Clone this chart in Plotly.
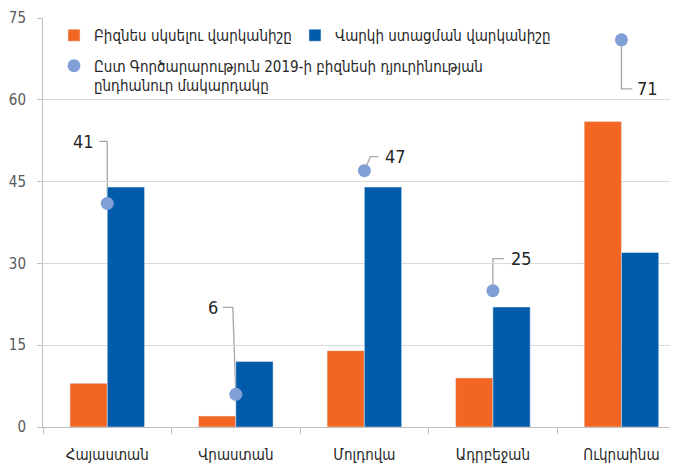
import plotly.graph_objects as go

categories = ["Հայաստան", "Վրաստան", "Մոլդովա", "Ադրբեջան", "Ուկրաինա"]
start_rank = [8, 2, 14, 9, 56]
credit_rank = [44, 12, 44, 22, 32]
doing_business = [41, 6, 47, 25, 71]

name_start = "Բիզնես սկսելու վարկանիշը"
name_credit = "Վարկի ստացման վարկանիշը"
name_db = "Ըստ Գործարարություն 2019-ի բիզնեսի դյուրինության<br>ընդհանուր մակարդակը"

FONT = "Liberation Sans Narrow, DejaVu Sans Condensed, DejaVu Sans"
ORANGE = "#f26522"
BLUE = "#005baa"
DOT = "#7f9fd6"

xs = list(range(len(categories)))

fig = go.Figure()
fig.add_trace(go.Bar(x=xs, y=start_rank, name=name_start, marker_color=ORANGE,
                     width=0.29, offset=-0.29, legend="legend"))
fig.add_trace(go.Bar(x=xs, y=credit_rank, name=name_credit, marker_color=BLUE,
                     width=0.29, offset=0, legend="legend2"))
fig.add_trace(go.Scatter(x=xs, y=doing_business, name=name_db, mode="markers",
                         marker=dict(size=13, color=DOT), legend="legend3"))

# leader-line pixel paths and label placement (style only)
leader = [
    ("M0,0 L0,62 L-8,62", -11, 62, "right"),
    ("M0,0 L-3,87 L-13,87", -16, 87, "right"),
    ("M0,0 L6,14 L14,14", 19, 14, "left"),
    ("M0,0 L0,32 L11,32", 16, 32, "left"),
    ("M0,0 L0,-49 L11,-49", 14, -49, "left"),
]
shapes = []
annotations = []
for i, (v, (path, tx, ty, anc)) in enumerate(zip(doing_business, leader)):
    shapes.append(dict(type="path", path=path, xref="x", yref="y",
                       xsizemode="pixel", ysizemode="pixel", xanchor=i, yanchor=v,
                       line=dict(color="#a6a6a6", width=1.3), layer="below"))
    annotations.append(dict(x=i, y=v, xref="x", yref="y", text=str(v), showarrow=False,
                            xshift=tx, yshift=ty, xanchor=anc, yanchor="middle",
                            font=dict(family=FONT, size=18, color="#262626")))

leg_common = dict(orientation="h", xanchor="left", yanchor="top", valign="top",
                  font=dict(family=FONT, size=15, color="#262626"),
                  bgcolor="rgba(0,0,0,0)", borderwidth=0)

fig.update_layout(
    width=670, height=458,
    margin=dict(l=35, r=0, t=10, b=39, autoexpand=False),
    paper_bgcolor="white", plot_bgcolor="white",
    font=dict(family=FONT, size=15, color="#404040"),
    barmode="overlay",
    showlegend=True,
    legend=dict(x=0.0173, y=0.9976, **leg_common),
    legend2=dict(x=0.3968, y=0.9976, **leg_common),
    legend3=dict(x=0.0173, y=0.923, **leg_common),
    shapes=shapes,
    annotations=annotations,
    xaxis=dict(range=[-0.5, 4.44], tickvals=xs, ticktext=categories, ticks="",
               showgrid=False, showline=True, linecolor="#bfbfbf", linewidth=1,
               tickfont=dict(family=FONT, size=15, color="#262626"),
               ticklabelstandoff=14, automargin=False, ticklabeloverflow="allow",
               minor=dict(tickvals=[-0.5, 0.5, 1.5, 2.5, 3.5], ticks="outside",
                          ticklen=6, tickcolor="#bfbfbf", showgrid=False),
               zeroline=False, fixedrange=True),
    yaxis=dict(range=[0, 75], dtick=15, tick0=0, showgrid=True, gridcolor="#d9d9d9",
               gridwidth=1, showline=True, linecolor="#bfbfbf", ticks="outside",
               ticklen=5, tickcolor="#bfbfbf", zeroline=False, automargin=False,
               ticklabelstandoff=8, ticklabeloverflow="allow",
               tickfont=dict(family=FONT, size=15, color="#595959"), fixedrange=True),
)

fig.write_html("out.html")
